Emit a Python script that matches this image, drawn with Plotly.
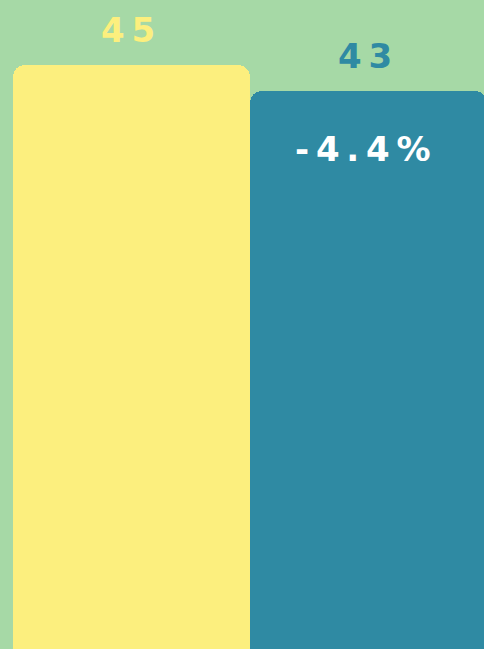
import plotly.graph_objects as go

categories = ["A", "B"]
values = [45, 43]
change_label = "-4.4%"
bar_colors = ["#fcef7e", "#2f8aa3"]
label_colors = ["#fcef7e", "#2f8aa3"]

HS = "\u2009"

def spaced(s):
    return HS.join(list(s))

FONT = "DejaVu Sans"

fig = go.Figure()
fig.add_trace(go.Bar(
    x=categories, y=values,
    marker=dict(color=bar_colors, line=dict(width=0)),
    width=1.0,
    hoverinfo="skip",
))

for c, v, col in zip(categories, values, label_colors):
    fig.add_annotation(x=c, y=v, text=spaced(str(v)), showarrow=False,
                       yanchor="bottom", yshift=13, xshift=-3,
                       font=dict(family=FONT, size=34, color=col, weight="bold"))

fig.add_annotation(x=categories[1], y=values[1], text=spaced(change_label), showarrow=False,
                   yanchor="middle", yshift=-58, xshift=-5,
                   font=dict(family=FONT, size=34, color="white", weight="bold"))

fig.update_layout(
    width=484, height=649,
    margin=dict(l=0, r=0, t=0, b=0),
    paper_bgcolor="#a6d9a6", plot_bgcolor="#a6d9a6",
    barcornerradius=12,
    bargap=0,
    showlegend=False,
    xaxis=dict(range=[-0.553, 1.489], visible=False, fixedrange=True),
    yaxis=dict(range=[0, 50], visible=False, fixedrange=True),
)

fig.write_html("out.html", config={"displayModeBar": False},
               post_script="document.body.style.margin='0';document.body.style.overflow='hidden';")
